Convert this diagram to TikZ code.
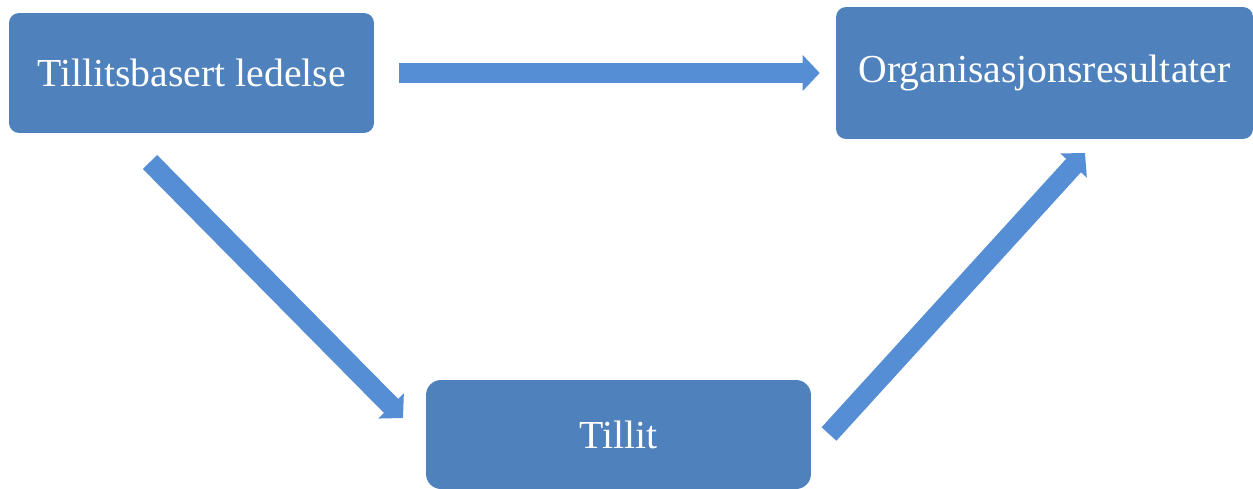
\documentclass[tikz,border=0pt]{standalone}
\usepackage{fontspec}
\setmainfont{Liberation Serif}
\usetikzlibrary{arrows.meta}
\definecolor{boxblue}{HTML}{4F81BD}
\definecolor{arrowblue}{HTML}{558ED5}
\tikzset{
  stepbox/.style={rectangle, rounded corners=0.2cm, fill=boxblue, text=white, inner sep=0pt,
    font=\fontsize{22.6}{27}\selectfont},
  blockarrow/.style={draw=arrowblue, line width=0.4cm,
    -{Triangle[length=0.34cm, width=0.7cm, fill=arrowblue]}}
}
\begin{document}
\begin{tikzpicture}[x=0.02cm, y=-0.02cm]
			%%%%% START %%%%%
			\useasboundingbox (0, 0) rectangle (1253, 489);
			
			\node[stepbox, minimum width=7.3cm, minimum height=2.4cm] (lead) at (191.5, 73) {Tillitsbasert ledelse};
			\node[stepbox, minimum width=8.34cm, minimum height=2.64cm] (org) at (1044.5, 73) {Organisasjonsresultater};
			\node[stepbox, rounded corners=0.3cm, minimum width=7.7cm, minimum height=2.18cm] (trust) at (618.5, 434.5) {Tillit};
			
			\coordinate (leadout) at (150, 162);
			\coordinate (trustin) at (403, 418);
			\coordinate (trustout) at (829, 434);
			\coordinate (orgin) at (1085, 153);
			
			\draw[blockarrow, shorten <=0.5cm, shorten >=0.32cm] (lead.east) -- (org.west);
			\draw[blockarrow] (leadout) -- (trustin);
			\draw[blockarrow] (trustout) -- (orgin);
			
			%%%%% END %%%%%
\end{tikzpicture}
\end{document}
